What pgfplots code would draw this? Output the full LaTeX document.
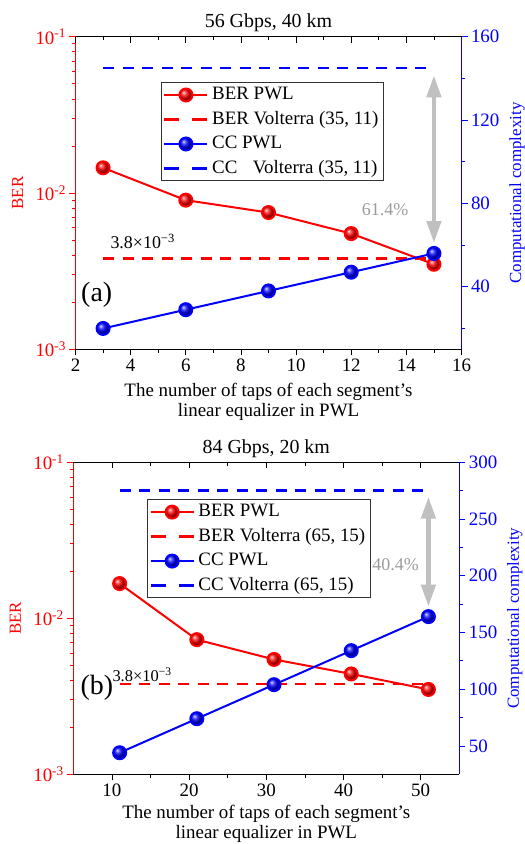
\documentclass[border=0pt]{standalone}
\usepackage{fontspec}
\setmainfont{Liberation Serif}
\usepackage{pgfplots}
\pgfplotsset{compat=1.18}
\usetikzlibrary{arrows.meta}
\definecolor{arrgray}{RGB}{192,192,192}
\definecolor{txtgray}{RGB}{155,155,155}
\newcommand{\fs}[1]{\rmfamily\fontsize{#1}{#1}\selectfont}
\tikzset{bigarrow/.style={arrgray, line width=4.5bp, {Triangle[width=14bp,length=22bp]}-{Triangle[width=14bp,length=22bp]}}}

\pgfplotsset{
  panel/.style={scale only axis, width=386bp, anchor=south west,
    tick align=outside, major tick length=6bp, minor tick length=3.5bp,
    /pgf/number format/assume math mode=true,
    tick label style={font=\fs{19}},
    axis line style={line width=0.8bp}, tick style={line width=0.8bp}},
  leftax/.style={panel, hide x axis, axis y line*=left,
    axis line style={red}, tick style={red}, yticklabel style={red},
    ytick={0.001,0.01,0.1},
    yticklabels={10\textsuperscript{-3},10\textsuperscript{-2},10\textsuperscript{-1}},
    minor ytick={0.002,0.003,0.004,0.005,0.006,0.007,0.008,0.009,0.02,0.03,0.04,0.05,0.06,0.07,0.08,0.09},
    ylabel={BER},
    every axis y label/.style={at={(axis description cs:0,0.5)}, xshift=-58bp, rotate=90, anchor=center, font=\fs{17}, text=red}},
  botax/.style={panel, hide y axis, axis x line*=bottom, ymin=0, ymax=1,
    axis line style={black}, tick style={black},
    xlabel={The number of taps of each segment's\\linear equalizer in PWL},
    every axis x label/.style={at={(axis description cs:0.5,0)}, anchor=north, yshift=-30bp, align=center, font=\rmfamily\fontsize{19}{20.5}\selectfont}},
  topax/.style={panel, hide y axis, axis x line*=top, ymin=0, ymax=1, tick align=inside,
    axis line style={black}, tick style={black}, xticklabels={},
    every axis title/.style={at={(axis description cs:0.5,1)}, anchor=center, yshift=13.5bp, font=\fs{20}}},
  rightax/.style={panel, hide x axis, axis y line*=right,
    axis line style={blue}, tick style={blue}, yticklabel style={blue},
    ylabel={Computational complexity},
    every axis y label/.style={at={(axis description cs:1,0.5)}, xshift=55.5bp, rotate=90, anchor=center, font=\fs{17}, text=blue},
    legend cell align=left,
    legend style={anchor=north west, draw=black!80, line width=0.8bp, font=\fs{19},
      inner xsep=2bp, inner ysep=1.5bp, row sep=3bp,
      nodes={inner ysep=1.5bp, inner xsep=3.5bp, text height=14bp, text depth=4.5bp}},
    legend image code/.code={\draw[mark repeat=2,mark phase=2,##1] plot coordinates {(0bp,0bp) (21.5bp,0bp) (43bp,0bp)};}},
  dashlegend/.style={legend image code/.code={\draw[##1, dash pattern=on 15bp off 13bp] (0bp,0bp) -- (43bp,0bp);}},
  ballred/.style={red, line width=2bp, mark=ball, mark size=6.5bp, mark options={ball color=red, solid}},
  ballblue/.style={blue, line width=2bp, mark=ball, mark size=6.5bp, mark options={ball color=blue, solid}},
  dashred/.style={red, line width=2.5bp, dash pattern=on 11bp off 8.5bp, dashlegend},
  dashblue/.style={blue, line width=2.5bp, dash pattern=on 11bp off 8.5bp, dashlegend},
}

\begin{document}
\begin{tikzpicture}
\useasboundingbox (0,0) rectangle (525bp,-844bp);

% ================= Panel (a) =================
\begin{axis}[leftax, ymode=log, ymin=1e-3, ymax=1e-1, at={(75.5bp,-349.3bp)}, height=312.6bp, xmin=2, xmax=16]
  \addplot[ballred] coordinates {(3,0.0145) (6,0.0090) (9,0.0075) (12,0.0055) (15,0.0035)};
  \addplot[dashred] coordinates {(3,0.0038) (15,0.0038)};
  \node[font=\fs{18}] at (rel axis cs:0.174,0.344) {3.8×10\textsuperscript{−3}};
  \node[font=\fs{28}] at (rel axis cs:0.055,0.174) {(a)};
\end{axis}
\begin{axis}[botax, at={(75.5bp,-349.3bp)}, height=312.6bp, xmin=2, xmax=16,
  xtick={2,4,...,16}, minor xtick={3,5,...,15}]
\end{axis}
\begin{axis}[topax, at={(75.5bp,-349.3bp)}, height=312.6bp, xmin=2, xmax=16,
  xtick={2,4,...,16}, minor xtick={3,5,...,15}, title={56 Gbps, 40 km}]
\end{axis}
\begin{axis}[rightax, at={(75.5bp,-349.3bp)}, height=312.6bp, xmin=2, xmax=16,
  ymin=10, ymax=160, ytick={40,80,120,160}, minor ytick={20,60,100,140},
  legend style={at={(0.221,0.854)}}]
  \addlegendimage{ballred}
  \addlegendentry{BER PWL}
  \addlegendimage{dashred}
  \addlegendentry{BER Volterra (35, 11)}
  \addplot[ballblue] coordinates {(3,20) (6,29) (9,38) (12,47) (15,56)};
  \addlegendentry{CC PWL}
  \addplot[dashblue] coordinates {(3,145) (15,145)};
  \addlegendentry{CC\hspace{15.5bp}Volterra (35, 11)}
  \draw[bigarrow] (axis cs:15,141.5) -- (axis cs:15,61);
  \node[txtgray, font=\fs{18}] at (rel axis cs:0.802,0.446) {61.4\%};
\end{axis}

% ================= Panel (b) =================
\begin{axis}[leftax, ymode=log, ymin=1e-3, ymax=1e-1, at={(73.3bp,-774.3bp)}, height=312bp, xmin=5, xmax=55]
  \addplot[ballred] coordinates {(11,0.0167) (21,0.0073) (31,0.00545) (41,0.0044) (51,0.0035)};
  \addplot[dashred, line width=2bp] coordinates {(11,0.0038) (51,0.0038)};
  \node[font=\fs{16.5}] at (rel axis cs:0.178,0.318) {3.8×10\textsuperscript{−3}};
  \node[font=\fs{28}] at (rel axis cs:0.061,0.276) {(b)};
\end{axis}
\begin{axis}[botax, at={(73.3bp,-774.3bp)}, height=312bp, xmin=5, xmax=55,
  xtick={10,20,...,50}, minor xtick={15,25,...,45}, xlabel style={yshift=3bp}]
\end{axis}
\begin{axis}[topax, at={(73.3bp,-774.3bp)}, height=312bp, xmin=5, xmax=55,
  xtick={10,20,...,50}, minor xtick={15,25,...,45}, title={84 Gbps, 20 km}]
\end{axis}
\begin{axis}[rightax, at={(73.3bp,-774.3bp)}, height=312bp, xmin=5, xmax=55,
  ymin=25, ymax=300, ytick={50,100,...,300}, minor ytick={75,125,...,275},
  legend style={at={(0.191,0.881)}}]
  \addlegendimage{ballred}
  \addlegendentry{BER PWL}
  \addlegendimage{dashred}
  \addlegendentry{BER Volterra (65, 15)}
  \addplot[ballblue] coordinates {(11,44) (21,74) (31,104) (41,134) (51,164)};
  \addlegendentry{CC PWL}
  \addplot[dashblue] coordinates {(11,275) (51,275)};
  \addlegendentry{CC Volterra (65, 15)}
  \draw[bigarrow] (axis cs:51,269.7) -- (axis cs:51,172.7);
  \node[txtgray, font=\fs{18}] at (rel axis cs:0.835,0.671) {40.4\%};
\end{axis}
\end{tikzpicture}
\end{document}
